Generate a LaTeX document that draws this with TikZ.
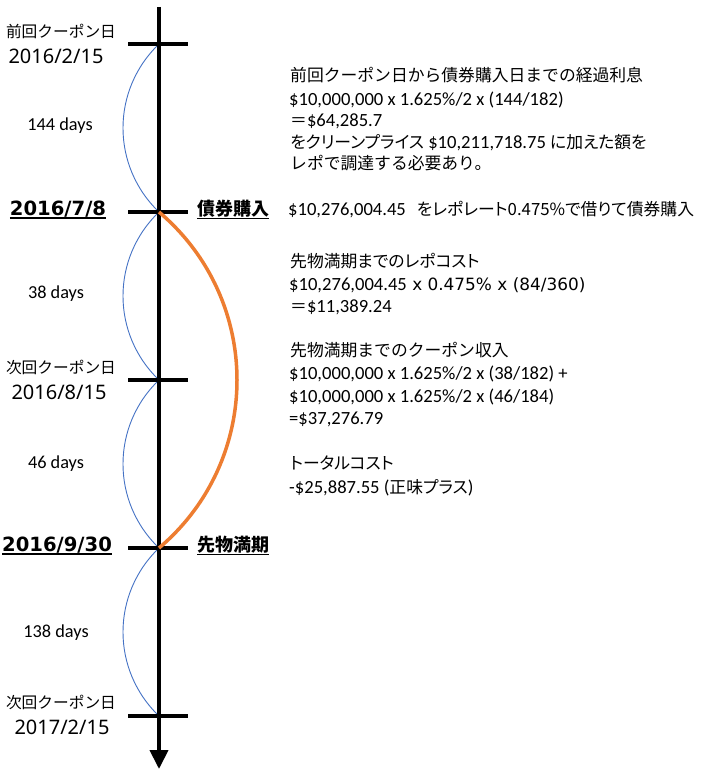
\documentclass[tikz,border=0pt]{standalone}
\usepackage{fontspec}
\setmainfont{Carlito}
\newfontfamily\jpf{Noto Sans CJK JP}
\newfontfamily\jpp{Noto Sans CJK JP}[RawFeature=+palt]
\newfontfamily\dvf{DejaVu Sans}
\newfontfamily\nsf{Noto Sans}
\usetikzlibrary{arrows.meta}
\definecolor{arcblue}{HTML}{4472C4}
\definecolor{arcorange}{HTML}{ED7D31}
\newcommand\J[1]{{\jpf\fontsize{16.8}{22}\selectfont #1}}
\newcommand\JP[1]{{\jpp\fontsize{16.8}{22}\selectfont #1}}
\newcommand\M[1]{{\dvf\fontsize{16.9}{22}\selectfont #1}}
\newcommand\myul[1]{\setbox0\hbox{#1}\rlap{\rule[-3.5pt]{\wd0}{1.6pt}}\box0}
\tikzset{
  axisline/.style={line width=4pt, -{Triangle[width=18pt,length=19pt]}},
  tickline/.style={line width=4pt},
  bluearc/.style={draw=arcblue, line width=0.9pt},
  orangearc/.style={draw=arcorange, line width=3.5pt},
  rtext/.style={anchor=base west, inner sep=0pt, font=\fontsize{18.6}{22}\selectfont},
  jlabel/.style={inner sep=0pt, font=\jpf\fontsize{15.7}{18}\selectfont},
  dlabel/.style={inner sep=0pt, font=\nsf\fontsize{20}{22}\selectfont},
  daylabel/.style={inner sep=0pt, font=\fontsize{18.3}{20}\selectfont},
  bdate/.style={inner sep=0pt, font=\dvf\bfseries\fontsize{19.6}{22}\selectfont},
  bjp/.style={inner sep=0pt, font=\jpf\bfseries\fontsize{18}{20}\selectfont},
}
\begin{document}
\begin{tikzpicture}[x=1pt,y=-1pt]
\useasboundingbox (0,0) rectangle (705,775);
\coordinate (top) at (159,7);
\coordinate (bot) at (159,769);
\coordinate (p1) at (159,44);
\coordinate (p2) at (159,212);
\coordinate (p3) at (159,380);
\coordinate (p4) at (159,548);
\coordinate (p5) at (159,716);
% blue arcs
\draw[bluearc] (p1) .. controls +(-48,46) and +(-48,-46) .. (p2);
\draw[bluearc] (p2) .. controls +(-48,46) and +(-48,-46) .. (p3);
\draw[bluearc] (p3) .. controls +(-48,46) and +(-48,-46) .. (p4);
\draw[bluearc] (p4) .. controls +(-48,46) and +(-48,-46) .. (p5);
% axis
\draw[axisline] (top) -- (bot);
\foreach \p in {p1,p2,p3,p4,p5}{
  \draw[tickline] ([xshift=-31pt]\p) -- ([xshift=29pt]\p);
}
% orange arc
\draw[orangearc] (p2) .. controls +(104,88) and +(104,-88) .. (p4);
% left labels
\node[jlabel] (l1a) at (61,31) {前回クーポン日};
\node[dlabel] (l1b) at (56,56) {2016/2/15};
\node[daylabel] (d1) at (60,126) {144 days};
\node[bdate] (l2) at (58,210) {\myul{2016/7/8}};
\node[bjp] (r2) at (233,210) {\myul{債券購入}};
\node[daylabel] (d2) at (56,294) {38 days};
\node[jlabel] (l3a) at (61,367) {次回クーポン日};
\node[dlabel] (l3b) at (59,392) {2016/8/15};
\node[daylabel] (d3) at (56,464) {46 days};
\node[bdate] (l4) at (57,546) {\myul{2016/9/30}};
\node[bjp] (r4) at (233,546) {\myul{先物満期}};
\node[daylabel] (d4) at (56,633) {138 days};
\node[jlabel] (l5a) at (61,702) {次回クーポン日};
\node[dlabel] (l5b) at (62,727) {2017/2/15};
% right text
\node[rtext] (t1) at (290,82) {\J{前回クーポン日から債券購入日までの経過利息}};
\node[rtext] (t2) at (289,106) {\$10,000,000 x 1.625\%/2 x (144/182)};
\node[rtext] (t3) at (290,127) {\J{＝}\$64,285.7};
\node[rtext] (t4) at (290,149) {\JP{をクリーンプライス} \$10,211,718.75 \JP{に加えた額を}};
\node[rtext] (t5) at (290,170) {\J{レポで調達する必要あり。}};
\node[rtext] (t6) at (288,216) {\$10,276,004.45\hspace{11pt}\JP{をレポレート0.475\%で借りて債券購入}};
\node[rtext] (t7) at (290,267) {\JP{先物満期までのレポコスト}};
\node[rtext] (t8) at (289,290) {\$10,276,004.45\M{ x 0.475\% x (84/360)}};
\node[rtext] (t9) at (290,312) {\J{＝}\$11,389.24};
\node[rtext] (t10) at (290,356) {\J{先物満期までのクーポン収入}};
\node[rtext] (t11) at (289,379) {\$10,000,000 x 1.625\%/2 x (38/182) +};
\node[rtext] (t12) at (289,402) {\$10,000,000 x 1.625\%/2 x (46/184)};
\node[rtext] (t13) at (289,424) {=\$37,276.79};
\node[rtext] (t14) at (290,469) {\JP{トータルコスト}};
\node[rtext] (t15) at (289,493) {-\$25,887.55 (\JP{正味プラス})};
\end{tikzpicture}
\end{document}
